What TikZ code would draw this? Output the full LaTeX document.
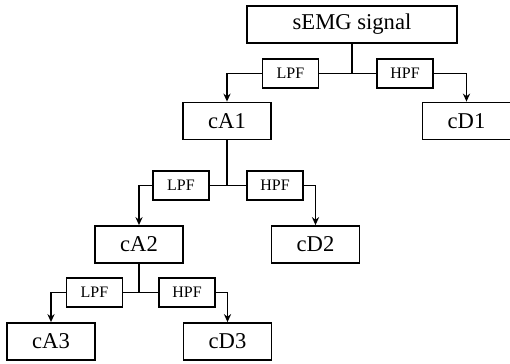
\documentclass[tikz,border=0pt]{standalone}
\usepackage{fontspec}
\setmainfont{Liberation Serif}
\usetikzlibrary{arrows.meta}
\tikzset{blk/.style = {draw, line width=0.9pt, minimum width=44pt, minimum height=18.5pt, inner sep=0pt, font=\fontsize{11.3}{13}\selectfont},
         filt/.style = {draw, line width=0.9pt, minimum width=28pt, minimum height=14.5pt, inner sep=0pt, font=\fontsize{8}{10}\selectfont},
         link/.style = {line width=0.8pt},
         arr/.style = {line width=0.8pt, -{Stealth[length=4pt,width=3.6pt]}}}

\begin{document}
\begin{tikzpicture}[x=0.5pt,y=-0.5pt]
\useasboundingbox (0,0) rectangle (510,364);
% level 0
\node[blk, minimum width=105pt] (sig) at (352,24.5) {sEMG signal};
% first split
\node[filt] (lpf1) at (290.5,73.5) {LPF};
\node[filt] (hpf1) at (405,73.5) {HPF};
\node[blk] (ca1) at (227,121) {cA1};
\node[blk] (cd1) at (466.5,121) {cD1};
% second split
\node[filt] (lpf2) at (181,185.5) {LPF};
\node[filt] (hpf2) at (275,185.5) {HPF};
\node[blk] (ca2) at (139,244.5) {cA2};
\node[blk] (cd2) at (315.5,244.5) {cD2};
% third split
\node[filt] (lpf3) at (94.5,292.5) {LPF};
\node[filt] (hpf3) at (187,292.5) {HPF};
\node[blk] (ca3) at (51,341.5) {cA3};
\node[blk] (cd3) at (227.5,341.5) {cD3};

\draw[link] (sig.south) -- (sig.south |- lpf1.east);
\draw[link] (lpf1.east) -- (hpf1.west);
\draw[arr] (lpf1.west) -| (ca1.north);
\draw[arr] (hpf1.east) -| (cd1.north);

\draw[link] (ca1.south) -- (ca1.south |- lpf2.east);
\draw[link] (lpf2.east) -- (hpf2.west);
\draw[arr] (lpf2.west) -| (ca2.north);
\draw[arr] (hpf2.east) -| (cd2.north);

\draw[link] (ca2.south) -- (ca2.south |- lpf3.east);
\draw[link] (lpf3.east) -- (hpf3.west);
\draw[arr] (lpf3.west) -| (ca3.north);
\draw[arr] (hpf3.east) -| (cd3.north);
\end{tikzpicture}
\end{document}
